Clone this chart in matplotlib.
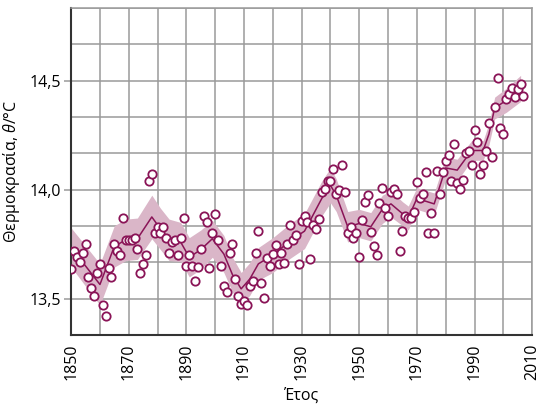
import matplotlib
matplotlib.use("Agg")
import matplotlib.pyplot as plt
from matplotlib.ticker import MultipleLocator, FixedLocator, FuncFormatter
import numpy as np

plt.rcParams['font.family'] = ['Open Sans', 'DejaVu Sans']
plt.rcParams['mathtext.fontset'] = 'custom'
plt.rcParams['mathtext.it'] = 'Open Sans:italic'
plt.rcParams['mathtext.rm'] = 'Open Sans'

# annual mean temperature, 1850-2007
years = np.arange(1850, 2008)
temps = [
    13.635, 13.72, 13.69, 13.67, 13.71, 13.75, 13.60, 13.55, 13.51, 13.62,
    13.66, 13.47, 13.42, 13.64, 13.60, 13.75, 13.72, 13.70, 13.87, 13.77,
    13.77, 13.77, 13.78, 13.73, 13.62, 13.66, 13.70, 14.04, 14.07, 13.80,
    13.83, 13.80, 13.83, 13.78, 13.71, 13.76, 13.77, 13.70, 13.78, 13.87,
    13.65, 13.70, 13.65, 13.58, 13.645, 13.73, 13.88, 13.85, 13.64, 13.80,
    13.89, 13.77, 13.65, 13.56, 13.53, 13.71, 13.75, 13.59, 13.51, 13.475,
    13.49, 13.47, 13.56, 13.58, 13.71, 13.81, 13.57, 13.505, 13.685, 13.65,
    13.705, 13.745, 13.66, 13.71, 13.665, 13.75, 13.84, 13.77, 13.79, 13.66,
    13.855, 13.88, 13.85, 13.68, 13.84, 13.82, 13.865, 13.99, 14.005, 14.04,
    14.04, 14.095, 13.98, 13.997, 14.115, 13.99, 13.80, 13.83, 13.78, 13.80,
    13.69, 13.86, 13.945, 13.975, 13.805, 13.74, 13.70, 13.94, 14.01, 13.915,
    13.88, 13.99, 14.003, 13.98, 13.72, 13.81, 13.88, 13.87, 13.87, 13.90,
    14.035, 13.96, 13.98, 14.08, 13.80, 13.895, 13.80, 14.085, 13.98, 14.083,
    14.13, 14.16, 14.04, 14.21, 14.03, 14.005, 14.045, 14.17, 14.18, 14.115,
    14.275, 14.22, 14.07, 14.115, 14.18, 14.305, 14.15, 14.38, 14.515, 14.285,
    14.255, 14.415, 14.44, 14.465, 14.427, 14.46, 14.485, 14.43,
]

# smoothed curve (vertices) and its uncertainty half-width
smooth_years = [1850, 1860, 1865, 1869, 1873, 1878, 1881, 1884, 1888, 1891,
                1895, 1899, 1903, 1906, 1909, 1912, 1915, 1920, 1926, 1931,
                1937, 1940, 1942, 1946, 1950, 1954, 1958, 1961, 1965, 1967,
                1970, 1976, 1980, 1984, 1989, 1993, 1995, 1997, 2001, 2006]
smooth_vals = [13.735, 13.565, 13.74, 13.77, 13.775, 13.875, 13.82, 13.77, 13.76, 13.69,
               13.725, 13.775, 13.705, 13.61, 13.545, 13.59, 13.66, 13.70, 13.765, 13.81,
               13.96, 14.02, 13.975, 13.83, 13.845, 13.83, 13.91, 13.935, 13.89, 13.87,
               13.96, 13.935, 14.10, 14.09, 14.18, 14.18, 14.255, 14.375, 14.41, 14.465]
band_half = [0.09, 0.095, 0.095, 0.095, 0.095, 0.1, 0.095, 0.095, 0.09, 0.09,
             0.09, 0.085, 0.085, 0.08, 0.075, 0.075, 0.075, 0.08, 0.08, 0.08,
             0.08, 0.08, 0.075, 0.07, 0.065, 0.065, 0.065, 0.06, 0.055, 0.055,
             0.05, 0.05, 0.05, 0.05, 0.045, 0.045, 0.05, 0.05, 0.055, 0.06]

xticks = [1850, 1870, 1890, 1910, 1930, 1950, 1970, 1990, 2010]
yticks = [13.5, 14.0, 14.5]

col = '#8a1457'
band_col = '#dab6c8'

fig = plt.figure(figsize=(5.43, 4.08), dpi=100)
ax = fig.add_axes([0.131, 0.179, 0.849, 0.801])

lo = np.array(smooth_vals) - np.array(band_half)
hi = np.array(smooth_vals) + np.array(band_half)
ax.fill_between(smooth_years, lo, hi, color=band_col, lw=0, zorder=2)
ax.plot(smooth_years, smooth_vals, color=col, lw=1.1, zorder=3)
ax.plot(years, temps, 'o', ms=6, mfc='white', mec=col, mew=1.3, zorder=4)

ax.set_xlim(1850, 2010)
ax.set_ylim(13.5 - 1/6, 14.5 + 2/6)
ax.xaxis.set_major_locator(FixedLocator(xticks))
ax.xaxis.set_minor_locator(MultipleLocator(10))
ax.yaxis.set_major_locator(FixedLocator(yticks))
ax.yaxis.set_minor_locator(MultipleLocator(1/6))
ax.yaxis.set_major_formatter(FuncFormatter(lambda v, p: f"{v:.1f}".replace('.', ',')))

ax.grid(which='both', color='#9a9a9a', lw=1.1)
ax.set_axisbelow(True)
ax.tick_params(axis='x', which='both', length=0, labelsize=11.5, labelrotation=90, pad=6)
ax.tick_params(axis='y', which='major', length=5, width=1.1, color='#9a9a9a', labelsize=11.5, pad=2)
ax.tick_params(axis='y', which='minor', length=0)

for s in ['top', 'right']:
    ax.spines[s].set_color('#9a9a9a')
    ax.spines[s].set_linewidth(1.1)
for s in ['left', 'bottom']:
    ax.spines[s].set_color('#333333')
    ax.spines[s].set_linewidth(1.5)

ax.set_xlabel('Έτος', fontsize=11.5, labelpad=6)
ax.set_ylabel('Θερμοκρασία, $\\mathit{θ}$/°C', fontsize=11.5, labelpad=6)

fig.savefig('out.png', dpi=100)
